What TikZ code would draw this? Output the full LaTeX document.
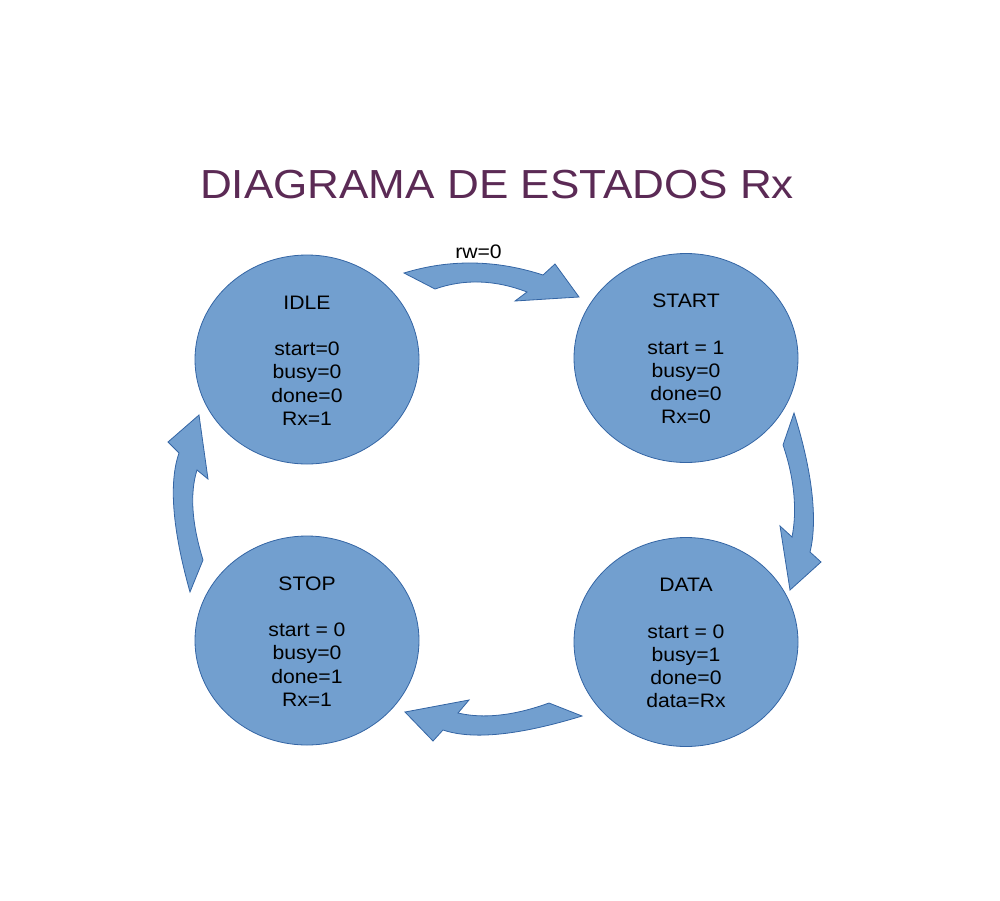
\documentclass[tikz,border=0pt]{standalone}
\usepackage{fontspec}
\setmainfont{Liberation Sans}[FakeStretch=1.085]
\usetikzlibrary{shapes.geometric}
\definecolor{fillblue}{HTML}{729FCF}
\definecolor{lineblue}{HTML}{3465A4}
\definecolor{titlecol}{HTML}{5B2A55}
\begin{document}
\begin{tikzpicture}[x=1pt,y=-1pt,
  statenode/.style={ellipse, draw=lineblue, fill=fillblue, line width=0.8pt, inner sep=0pt,
    minimum width=224pt, minimum height=209pt, align=center,
    font=\fontsize{19.5}{23.2}\selectfont},
  blockarrow/.style={draw=lineblue, fill=fillblue, line width=0.8pt, line join=miter},
  lbl/.style={font=\fontsize{19.5}{23.2}\selectfont, inner sep=0pt}]
\useasboundingbox (0,0) rectangle (1000,900);
\node[anchor=base, inner sep=0pt, text=titlecol, font=\fontsize{40.6}{48}\selectfont] (title) at (497,198) {DIAGRAMA DE ESTADOS Rx};
\node[statenode] (idle) at (307,359.5) {};
\node[statenode] (start) at (686,358) {};
\node[statenode] (data) at (686,642) {};
\node[statenode] (stop) at (307,640.5) {};
\node[lbl, align=center] (idletext) at ([yshift=-1pt]idle.center) {IDLE\\[23.2pt]start=0\\busy=0\\done=0\\Rx=1};
\node[lbl, align=center] (starttext) at ([yshift=-1pt]start.center) {START\\[23.2pt]start = 1\\busy=0\\done=0\\Rx=0};
\node[lbl, align=center] (datatext) at ([yshift=-1pt]data.center) {DATA\\[23.2pt]start = 0\\busy=1\\done=0\\data=Rx};
\node[lbl, align=center] (stoptext) at ([yshift=-1pt]stop.center) {STOP\\[23.2pt]start = 0\\busy=0\\done=1\\Rx=1};
% top arrow IDLE -> START
\draw[blockarrow] (404,273) .. controls (449.7,259) and (496,259.7) .. (543,275)
  -- (555,264) -- (579,297) -- (515,301) -- (527,292)
  .. controls (495,279.7) and (464.3,278.7) .. (435,289) -- cycle;
\node[lbl, anchor=base] (rw) at (478.5,258) {rw=0};
% right arrow START -> DATA
\draw[blockarrow] (794,413) .. controls (812,470) and (818,520) .. (810,552)
  -- (821,562) -- (790,590) -- (780,526) -- (792,537)
  .. controls (797,512) and (795,480) .. (783,445) -- cycle;
% bottom arrow DATA -> STOP
\draw[blockarrow] (582,716) .. controls (519,735.3) and (472.7,740) .. (443,730)
  -- (433,741) -- (405,712) -- (469,700) -- (458,713)
  .. controls (483.7,719) and (514,715.7) .. (549,703) -- cycle;
% left arrow STOP -> IDLE
\draw[blockarrow] (190,592) .. controls (172.3,529) and (168.7,482.7) .. (179,453)
  -- (168,442) -- (199,415) -- (208,479) -- (197,470)
  .. controls (189.7,493.3) and (191.7,523.3) .. (203,560) -- cycle;
\end{tikzpicture}
\end{document}
